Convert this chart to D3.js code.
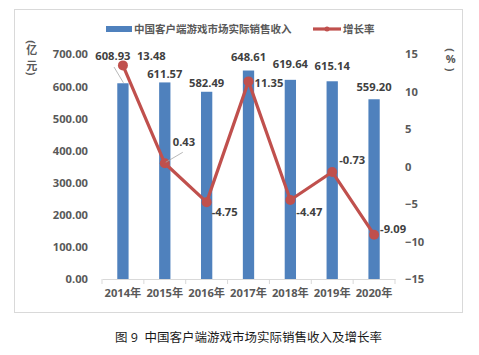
<!DOCTYPE html>
<html><head><meta charset="utf-8">
<script src="https://cdn.jsdelivr.net/npm/d3@7/dist/d3.min.js"></script>
<style>
body{margin:0;background:#fff;}
text{font-family:"Open Sans","Noto Sans CJK SC",sans-serif;}
</style></head>
<body><svg id="c" width="479" height="355"></svg>
<script>
const years = ["2014年","2015年","2016年","2017年","2018年","2019年","2020年"];
const revenue = [608.93, 611.57, 582.49, 648.61, 619.64, 615.14, 559.20];
const growth = [13.48, 0.43, -4.75, 11.35, -4.47, -0.73, -9.09];
const leftTicks = [0,100,200,300,400,500,600,700];
const rightTicks = [-15,-10,-5,0,5,10,15];

const svg = d3.select("#c");
const gray = "#595959";
const barColor = "#4F81BD", lineColor = "#C0504D";

svg.append("rect").attr("x",14.5).attr("y",9.5).attr("width",448).attr("height",303)
  .attr("fill","#fff").attr("stroke","#d9d9d9").attr("stroke-width",1);

const x = d3.scaleBand().domain(years).range([102,395]).paddingInner(0.73).paddingOuter(0.365);
const xb = d3.scaleBand().domain(years).range([102,395]);
const yL = d3.scaleLinear().domain([0,700]).range([279,54]);
const yR = d3.scaleLinear().domain([-15,15]).range([279,54]);

// left axis labels
const la = svg.append("g").attr("transform","translate(88,0)")
  .call(d3.axisLeft(yL).tickValues(leftTicks).tickSize(0).tickPadding(0).tickFormat(d3.format(".2f")));
la.select(".domain").remove();
la.selectAll("text").attr("font-size",11.2).attr("font-weight","bold").attr("fill",gray).attr("dy","0.35em");

// right axis labels
const ra = svg.append("g").attr("transform","translate(405,0)")
  .call(d3.axisRight(yR).tickValues(rightTicks).tickSize(0).tickPadding(0).tickFormat(d3.format("d")));
ra.select(".domain").remove();
ra.selectAll("text").attr("font-size",11.2).attr("font-weight","bold").attr("fill",gray).attr("dy","0.35em");

// bars
svg.selectAll("rect.bar").data(revenue).join("rect").attr("class","bar")
  .attr("x",(d,i)=>x(years[i])).attr("width",x.bandwidth())
  .attr("y",d=>yL(d)).attr("height",d=>yL(0)-yL(d)).attr("fill",barColor);

// x axis
const xa = svg.append("g").attr("transform","translate(0,279)")
  .call(d3.axisBottom(xb).tickSize(0).tickPadding(18));
xa.select(".domain").attr("stroke","#d9d9d9");
xa.selectAll("text").attr("font-size",11.2).attr("font-weight","bold").attr("fill",gray).attr("dy","0");
const bounds = years.map(y=>xb(y)).concat([395]);
svg.append("g").selectAll("line").data(bounds).join("line")
  .attr("x1",d=>d).attr("x2",d=>d).attr("y1",279).attr("y2",284).attr("stroke","#d9d9d9");

// bar labels
const barDx = [-10,0,0,0,0,0,0];
const barDy = [-23,-4,-5,-10,-12,-11,-8];
svg.selectAll("text.bl").data(revenue).join("text").attr("class","bl")
  .attr("x",(d,i)=>xb(years[i])+xb.bandwidth()/2+barDx[i])
  .attr("y",(d,i)=>yL(d)+barDy[i])
  .attr("text-anchor","middle").attr("font-size",11.2).attr("font-weight","bold").attr("fill","#404040")
  .text(d=>d.toFixed(2));
// leader line for 2014 bar label
svg.append("line").attr("x1",xb(years[0])+12).attr("y1",67).attr("x2",xb(years[0])+xb.bandwidth()/2+0.5).attr("y2",yL(revenue[0])-0.5)
  .attr("stroke","#a6a6a6").attr("stroke-width",0.8);

// line
const cx = (i)=>xb(years[i])+xb.bandwidth()/2;
const line = d3.line().x((d,i)=>cx(i)).y(d=>yR(d));
svg.append("path").datum(growth).attr("d",line).attr("fill","none")
  .attr("stroke",lineColor).attr("stroke-width",3.2).attr("stroke-linejoin","round");
svg.selectAll("circle.m").data(growth).join("circle").attr("class","m")
  .attr("cx",(d,i)=>cx(i)).attr("cy",d=>yR(d)).attr("r",5).attr("fill",lineColor);

// line labels
const lDx = [14, 8, 5, 6, 6, 7, 6];
const lDy = [-5, -17, 14, 6, 16, -8, -2];
svg.selectAll("text.ll").data(growth).join("text").attr("class","ll")
  .attr("x",(d,i)=>cx(i)+lDx[i]).attr("y",(d,i)=>yR(d)+lDy[i])
  .attr("font-size",11.2).attr("font-weight","bold").attr("fill","#404040")
  .text(d=>d.toFixed(2));
// leader line for 0.43
svg.append("line").attr("x1",cx(1)+1).attr("y1",yR(growth[1])-1).attr("x2",cx(1)+18).attr("y2",yR(growth[1])-11)
  .attr("stroke","#a6a6a6").attr("stroke-width",0.8);

// axis titles (vertical, one glyph per line; parentheses rotated)
function vTitle(cls, xc, items){
  svg.selectAll("text."+cls).data(items).join("text").attr("class",cls)
    .attr("transform",d=>`translate(${xc},${d[1]}) rotate(${d[2]})`)
    .attr("text-anchor","middle").attr("dominant-baseline","central")
    .attr("font-size",11).attr("font-weight","bold").attr("fill",gray).attr("font-family","Noto Sans CJK SC")
    .text(d=>d[0]);
}
vTitle("lt", 31.7, [["(",42.2,90],["亿",49.8,0],["元",65.6,0],[")",73.6,90]]);
vTitle("rt", 450.7, [["(",50,90],["%",58.7,0],[")",69.5,90]]);

// legend
svg.append("rect").attr("x",106).attr("y",26).attr("width",26).attr("height",6).attr("fill",barColor);
svg.append("text").attr("x",134).attr("y",33).attr("font-size",10.5).attr("font-weight","bold").attr("fill",gray)
  .attr("font-family","Noto Sans CJK SC").text("中国客户端游戏市场实际销售收入");
svg.append("line").attr("x1",313).attr("x2",341).attr("y1",29).attr("y2",29).attr("stroke",lineColor).attr("stroke-width",3.2);
svg.append("circle").attr("cx",327).attr("cy",29).attr("r",2.5).attr("fill",lineColor);
svg.append("text").attr("x",343).attr("y",33).attr("font-size",10.5).attr("font-weight","bold").attr("fill",gray)
  .attr("font-family","Noto Sans CJK SC").text("增长率");

// caption
svg.append("text").attr("x",115).attr("y",342).attr("font-size",12.5).attr("fill","#1a1a1a")
  .attr("font-family","Noto Sans CJK SC").attr("xml:space","preserve").text("图 9  中国客户端游戏市场实际销售收入及增长率");
</script></body></html>
